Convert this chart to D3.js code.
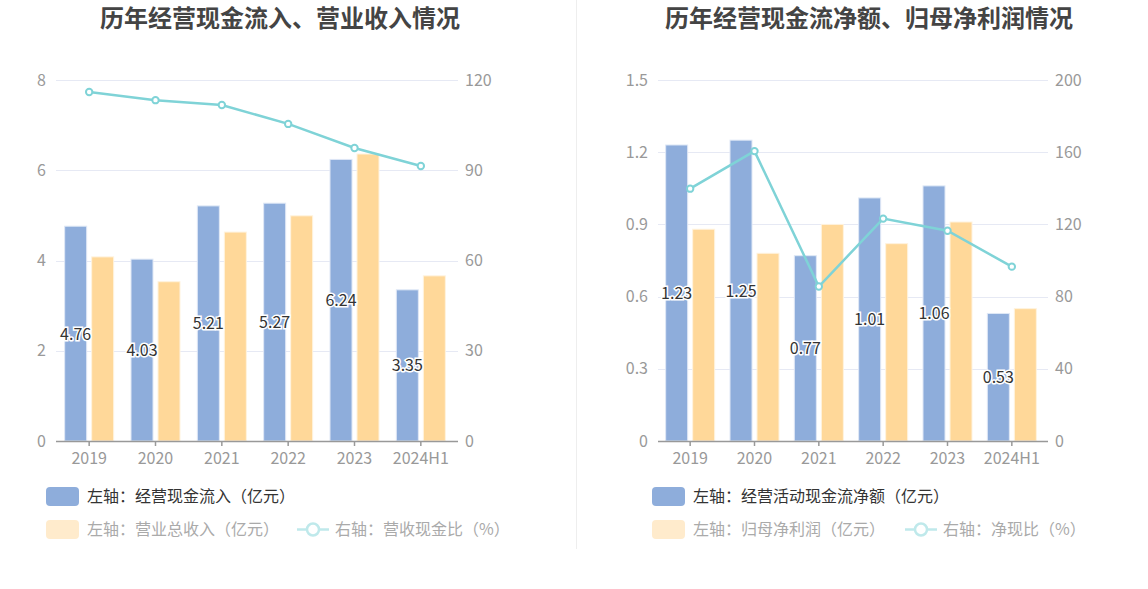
<!DOCTYPE html>
<html>
<head>
<meta charset="utf-8">
<script src="https://cdn.jsdelivr.net/npm/d3@7/dist/d3.min.js"></script>
<style>
  html, body { margin: 0; padding: 0; background: #fff; }
  svg { display: block; font-family: "Noto Sans CJK SC", "Noto Sans", sans-serif; }
</style>
</head>
<body>
<svg id="chart" width="1148" height="589"></svg>
<script>
// ======================
// DATA
// ======================
const years = ["2019", "2020", "2021", "2022", "2023", "2024H1"];

// left panel
const cashInflow = [4.76, 4.03, 5.21, 5.27, 6.24, 3.35];
const revenue = [4.08, 3.53, 4.63, 4.99, 6.36, 3.66];
const cashRevenueRatio = [116.0, 113.3, 111.7, 105.4, 97.4, 91.4];
const leftTicksL = [0, 2, 4, 6, 8];
const leftTicksR = [0, 30, 60, 90, 120];

// right panel
const netCashFlow = [1.23, 1.25, 0.77, 1.01, 1.06, 0.53];
const netProfit = [0.88, 0.78, 0.90, 0.82, 0.91, 0.55];
const netCashRatio = [139.8, 160.6, 85.6, 123.2, 116.5, 96.6];
const rightTicksL = [0, 0.3, 0.6, 0.9, 1.2, 1.5];
const rightTicksR = [0, 40, 80, 120, 160, 200];

const BLUE = "#8eaddb";
const ORANGE = "#ffd899";
const TEAL = "#7fd3d7";

const svg = d3.select("#chart");

// divider between the two panels
svg.append("line")
    .attr("x1", 576.5).attr("x2", 576.5)
    .attr("y1", 0).attr("y2", 549)
    .attr("stroke", "#eeeeee");

// ======================
// PANEL
// ======================
function drawPanel(opt) {
    const g = svg.append("g");

    g.append("text")
        .attr("x", opt.titleX)
        .attr("y", 27)
        .attr("text-anchor", "middle")
        .attr("font-size", 24)
        .attr("font-weight", "bold")
        .attr("fill", "#444")
        .text(opt.title);

    const x = d3.scaleBand()
        .domain(years)
        .range([opt.x0, opt.x1]);

    const yL = d3.scaleLinear().domain(opt.domainL).range([441, 80]);
    const yR = d3.scaleLinear().domain(opt.domainR).range([441, 80]);

    // gridlines
    g.append("g")
        .selectAll("line")
        .data(opt.ticksL.slice(1))
        .enter()
        .append("line")
        .attr("x1", opt.x0).attr("x2", opt.x1 + 4)
        .attr("y1", d => Math.round(yL(d)) + 0.5)
        .attr("y2", d => Math.round(yL(d)) + 0.5)
        .attr("stroke", "#e6e9f4");

    // left axis labels
    const axL = g.append("g")
        .attr("transform", `translate(${opt.x0 - 10},0)`)
        .call(d3.axisLeft(yL).tickValues(opt.ticksL).tickSize(0).tickPadding(0)
            .tickFormat(d => d3.format("~g")(d)));
    axL.select(".domain").remove();
    axL.selectAll("text").attr("font-size", 16).attr("fill", "#999")
        .attr("font-family", "'Noto Sans CJK SC', sans-serif");

    // right axis labels
    const axR = g.append("g")
        .attr("transform", `translate(${opt.x1 + 11},0)`)
        .call(d3.axisRight(yR).tickValues(opt.ticksR).tickSize(0).tickPadding(0));
    axR.select(".domain").remove();
    axR.selectAll("text").attr("font-size", 16).attr("fill", "#999")
        .attr("font-family", "'Noto Sans CJK SC', sans-serif");

    const barW = 22;
    const off = 13.5;

    // bars
    g.append("g").selectAll("rect")
        .data(opt.barA)
        .enter()
        .append("rect")
        .attr("x", (d, i) => x(years[i]) + x.bandwidth() / 2 - off - barW / 2)
        .attr("y", d => yL(d))
        .attr("width", barW)
        .attr("height", d => yL(0) - yL(d))
        .attr("fill", BLUE)
        .attr("stroke", "#dfe8f6")
        .attr("stroke-width", 1);

    g.append("g").selectAll("rect")
        .data(opt.barB)
        .enter()
        .append("rect")
        .attr("x", (d, i) => x(years[i]) + x.bandwidth() / 2 + off - barW / 2)
        .attr("y", d => yL(d))
        .attr("width", barW)
        .attr("height", d => yL(0) - yL(d))
        .attr("fill", ORANGE)
        .attr("stroke", "#fff3de")
        .attr("stroke-width", 1);

    // x axis
    const axX = g.append("g")
        .attr("transform", "translate(0,441)")
        .call(d3.axisBottom(x).tickSizeOuter(0).tickSizeInner(5).tickPadding(7));
    axX.select(".domain").attr("stroke", "#999").attr("stroke-width", 1.5)
        .attr("d", `M${opt.x0},0.5H${opt.x1 + 4}`);
    axX.selectAll(".tick line").attr("stroke", "#999").attr("stroke-width", 1.5);
    axX.selectAll("text").attr("font-size", 16).attr("fill", "#999")
        .attr("font-family", "'Noto Sans CJK SC', sans-serif");

    // line
    const line = d3.line()
        .x((d, i) => x(years[i]) + x.bandwidth() / 2)
        .y(d => yR(d));

    g.append("path")
        .datum(opt.ratio)
        .attr("d", line)
        .attr("fill", "none")
        .attr("stroke", TEAL)
        .attr("stroke-width", 2.5);

    g.append("g").selectAll("circle")
        .data(opt.ratio)
        .enter()
        .append("circle")
        .attr("cx", (d, i) => x(years[i]) + x.bandwidth() / 2)
        .attr("cy", d => yR(d))
        .attr("r", 3.2)
        .attr("fill", "#fff")
        .attr("stroke", TEAL)
        .attr("stroke-width", 2);

    // value labels in the middle of the blue bars
    g.append("g").selectAll("text")
        .data(opt.barA)
        .enter()
        .append("text")
        .attr("x", (d, i) => x(years[i]) + x.bandwidth() / 2 - off)
        .attr("y", d => (yL(d) + yL(0)) / 2 + 6)
        .attr("text-anchor", "middle")
        .attr("font-size", 16)
        .attr("fill", "#333")
        .attr("stroke", "#fff")
        .attr("stroke-width", 3)
        .attr("paint-order", "stroke")
        .text(d => d.toFixed(2));

    // legend
    const lg = g.append("g");
    lg.append("rect")
        .attr("x", opt.legX).attr("y", 487)
        .attr("width", 33).attr("height", 19).attr("rx", 4)
        .attr("fill", BLUE);
    lg.append("text")
        .attr("x", opt.legX + 41).attr("y", 502)
        .attr("font-size", 16).attr("fill", "#333")
        .text(opt.legA);

    lg.append("rect")
        .attr("x", opt.legX).attr("y", 520)
        .attr("width", 33).attr("height", 19).attr("rx", 4)
        .attr("fill", "#ffebcc");
    lg.append("text")
        .attr("x", opt.legX + 41).attr("y", 535)
        .attr("font-size", 16).attr("fill", "#aaa")
        .text(opt.legB);

    lg.append("line")
        .attr("x1", opt.legLineX).attr("x2", opt.legLineX + 32)
        .attr("y1", 529.5).attr("y2", 529.5)
        .attr("stroke", "#bfe9eb").attr("stroke-width", 2.5);
    lg.append("circle")
        .attr("cx", opt.legLineX + 16).attr("cy", 529.5).attr("r", 6)
        .attr("fill", "#fff").attr("stroke", "#bfe9eb").attr("stroke-width", 2.5);
    lg.append("text")
        .attr("x", opt.legLineX + 38).attr("y", 535)
        .attr("font-size", 16).attr("fill", "#aaa")
        .text(opt.legC);
}

drawPanel({
    title: "历年经营现金流入、营业收入情况",
    titleX: 280,
    x0: 56, x1: 454,
    domainL: [0, 8], domainR: [0, 120],
    ticksL: leftTicksL, ticksR: leftTicksR,
    barA: cashInflow, barB: revenue, ratio: cashRevenueRatio,
    legX: 46, legLineX: 297,
    legA: "左轴：经营现金流入（亿元）",
    legB: "左轴：营业总收入（亿元）",
    legC: "右轴：营收现金比（%）"
});

drawPanel({
    title: "历年经营现金流净额、归母净利润情况",
    titleX: 869,
    x0: 658, x1: 1044,
    domainL: [0, 1.5], domainR: [0, 200],
    ticksL: rightTicksL, ticksR: rightTicksR,
    barA: netCashFlow, barB: netProfit, ratio: netCashRatio,
    legX: 652, legLineX: 905,
    legA: "左轴：经营活动现金流净额（亿元）",
    legB: "左轴：归母净利润（亿元）",
    legC: "右轴：净现比（%）"
});
</script>
</body>
</html>
